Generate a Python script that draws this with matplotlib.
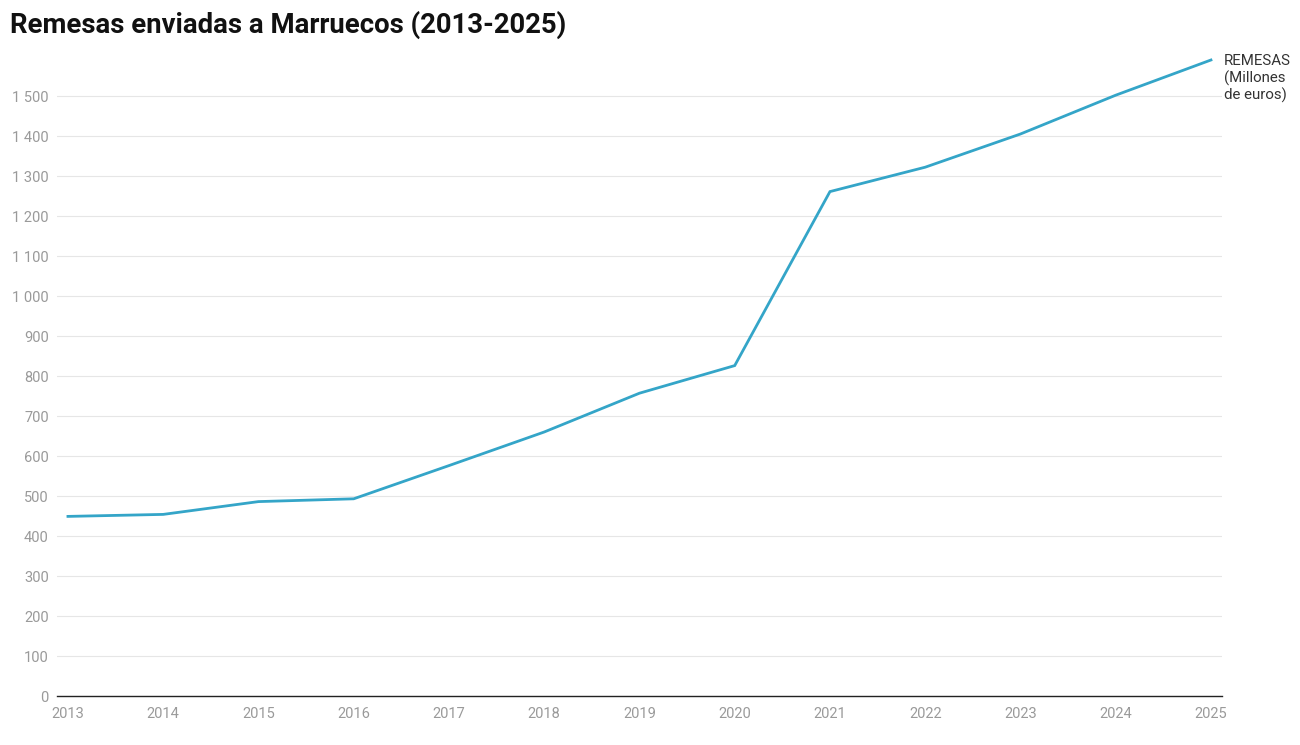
import matplotlib
matplotlib.use("Agg")
import matplotlib.pyplot as plt

# Remesas enviadas a Marruecos, millones de euros
years = [2013, 2014, 2015, 2016, 2017, 2018, 2019, 2020, 2021, 2022, 2023, 2024, 2025]
remesas = [449, 454, 486, 493, 576, 660, 757, 826, 1261, 1322, 1405, 1502, 1590]
yticks = list(range(0, 1600, 100))

plt.rcParams['font.family'] = ['Roboto', 'DejaVu Sans']

fig = plt.figure(figsize=(13, 7.45), dpi=100)
ax = fig.add_axes([57/1300, 49/745, (1222-57)/1300, (696-56)/745])

ax.plot(years, remesas, color="#34a5c8", linewidth=2.0, solid_joinstyle="miter")

ax.set_xlim(2012.885, 2025.116)
ax.set_ylim(0, 1600)
ax.set_xticks(years)
ax.set_xticklabels([str(y) for y in years])
ax.set_yticks(yticks)
ax.set_yticklabels([f"{v:,}".replace(",", " ") for v in yticks])
ax.tick_params(axis="both", length=0, labelsize=10.5, labelcolor="#9a9a9a")
ax.tick_params(axis="y", pad=6)
ax.tick_params(axis="x", pad=8)

ax.grid(axis="y", color="#e6e6e6", linewidth=0.8)
ax.set_axisbelow(True)
for s in ["top", "right", "left"]:
    ax.spines[s].set_visible(False)
ax.spines["bottom"].set_color("#222222")
ax.spines["bottom"].set_linewidth(1.0)

fig.text(10/1300, 1 - 25/745, "Remesas enviadas a Marruecos (2013-2025)",
         fontsize=19.8, fontweight="bold", color="#111111", va="center", ha="left")
ax.annotate("REMESAS\n(Millones\nde euros)", xy=(years[-1], remesas[-1]),
            xytext=(9.5, 4), textcoords="offset points", fontsize=10.8,
            color="#333333", va="top", ha="left", linespacing=1.15,
            annotation_clip=False)

plt.savefig("out.png", dpi=100)
